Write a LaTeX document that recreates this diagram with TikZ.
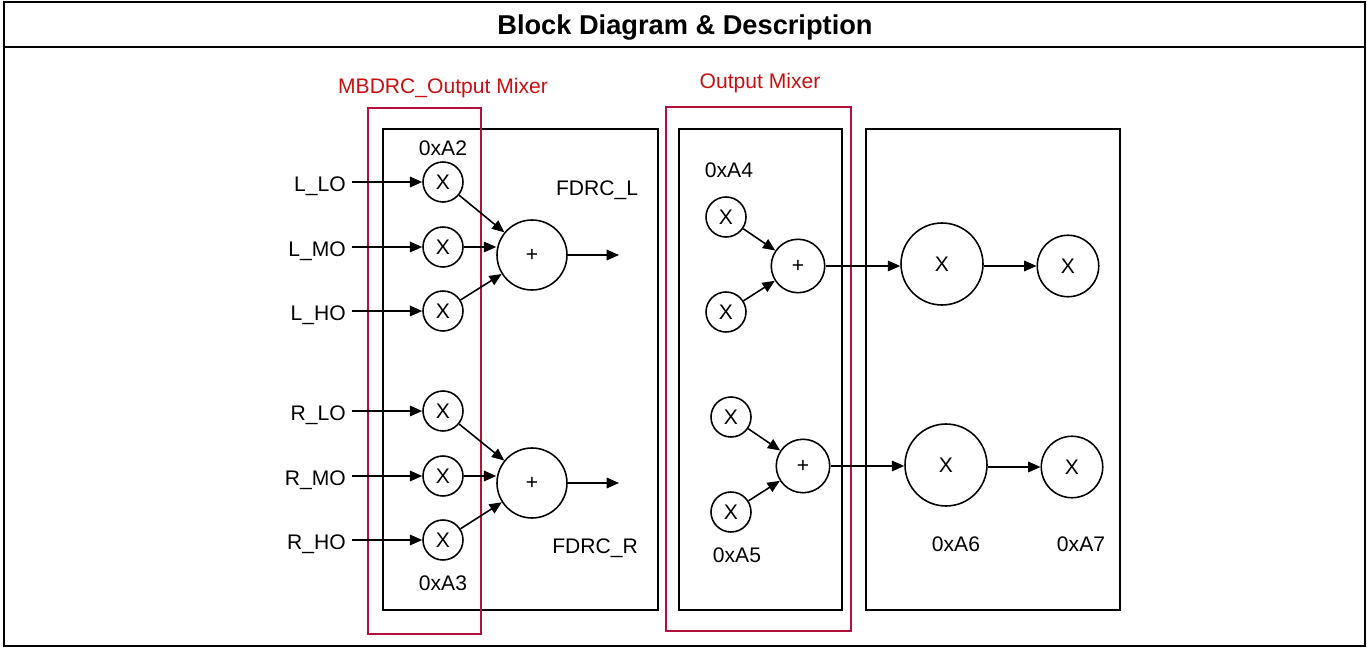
\documentclass[tikz,border=0pt]{standalone}
\usepackage{fontspec}
\setmainfont{Liberation Sans}
\usetikzlibrary{arrows.meta}
\definecolor{mixred}{RGB}{176,18,60}
\definecolor{labred}{RGB}{200,16,16}

\begin{document}
\begin{tikzpicture}[x=0.02cm, y=-0.02cm, font=\fontsize{12}{14}\selectfont,
		mul/.style={circle, draw=black, line width=0.9pt, minimum size=0.8cm, inner sep=0pt},
		add/.style={circle, draw=black, line width=0.9pt, minimum size=1.4cm, inner sep=0pt},
		arr/.style={-{Triangle[length=7pt,width=6pt]}, line width=0.9pt},
		box/.style={draw=black, line width=0.9pt},
		mixbox/.style={draw=mixred, line width=0.9pt}]
			\useasboundingbox (0,0) rectangle (1369,648);
			\draw[line width=1.4pt] (4,2) rectangle (1365,646);
			\draw[line width=1.2pt] (4,47) -- (1365,47);
			\node[font=\bfseries\fontsize{15.5}{18}\selectfont](title) at (685,28){Block Diagram \& Description};
			% blocks
			\draw[box] (383,129) rectangle (658,610);
			\draw[box] (679,129) rectangle (842,610);
			\draw[box] (866,129) rectangle (1120,610);
			\draw[mixbox] (368,108) rectangle (481,634);
			\draw[mixbox] (666,107) rectangle (851,631);
			\node[text=labred](mbdrc) at (443,88){MBDRC\_Output Mixer};
			\node[text=labred](outmix) at (760,83){Output Mixer};
			% MBDRC output mixer
			\node[anchor=east](llo) at (352,186){L\_LO};
			\node[anchor=east](lmo) at (352,251){L\_MO};
			\node[anchor=east](lho) at (352,315){L\_HO};
			\node[anchor=east](rlo) at (352,415){R\_LO};
			\node[anchor=east](rmo) at (352,480){R\_MO};
			\node[anchor=east](rho) at (352,544){R\_HO};
			\node[mul](m1) at (443,182){X};
			\node[mul](m2) at (443,247){X};
			\node[mul](m3) at (443,311){X};
			\node[mul](m4) at (443,411){X};
			\node[mul](m5) at (443,476){X};
			\node[mul](m6) at (443,540){X};
			\node[add](pl) at (532,255){+};
			\node[add](pr) at (532,483){+};
			\coordinate(fl) at (619,255);
			\coordinate(fr) at (619,483);
			\node(a2) at (443,148){0xA2};
			\node(a3) at (443,583){0xA3};
			\node(fdrcl) at (597,190){FDRC\_L};
			\node(fdrcr) at (595,548){FDRC\_R};
			\draw[arr] (llo.east |- m1) -- (m1);
			\draw[arr] (lmo.east |- m2) -- (m2);
			\draw[arr] (lho.east |- m3) -- (m3);
			\draw[arr] (rlo.east |- m4) -- (m4);
			\draw[arr] (rmo.east |- m5) -- (m5);
			\draw[arr] (rho.east |- m6) -- (m6);
			\draw[arr] (m1) -- (pl);
			\draw[arr] (m2.east) -- (pl.west |- m2.east);
			\draw[arr] (m3) -- (pl);
			\draw[arr] (m4) -- (pr);
			\draw[arr] (m5.east) -- (pr.west |- m5.east);
			\draw[arr] (m6) -- (pr);
			\draw[arr] (pl) -- (fl);
			\draw[arr] (pr) -- (fr);
			% output mixer
			\node[mul](m7) at (726,217){X};
			\node[mul](m8) at (726,312){X};
			\node[mul](m9) at (731,417){X};
			\node[mul](m10) at (731,512){X};
			\node[add, minimum size=1.07cm](po1) at (798,266){+};
			\node[add, minimum size=1.07cm](po2) at (803,466){+};
			\node[add, minimum size=1.64cm](g1) at (942,264){X};
			\node[add, minimum size=1.64cm](g2) at (946,465){X};
			\node[add, minimum size=1.23cm](v1) at (1068,266){X};
			\node[add, minimum size=1.23cm](v2) at (1072,467){X};
			\node(a4) at (729,170){0xA4};
			\node(a5) at (737,555){0xA5};
			\node(a6) at (956,544){0xA6};
			\node(a7) at (1081,544){0xA7};
			\draw[arr] (m7) -- (po1);
			\draw[arr] (m8) -- (po1);
			\draw[arr] (m9) -- (po2);
			\draw[arr] (m10) -- (po2);
			\draw[arr] (po1.east) -- (g1.west |- po1.east);
			\draw[arr] (po2.east) -- (g2.west |- po2.east);
			\draw[arr] (g1.east |- v1) -- (v1);
			\draw[arr] (g2.east |- v2) -- (v2);
			\end{tikzpicture}
\end{document}
